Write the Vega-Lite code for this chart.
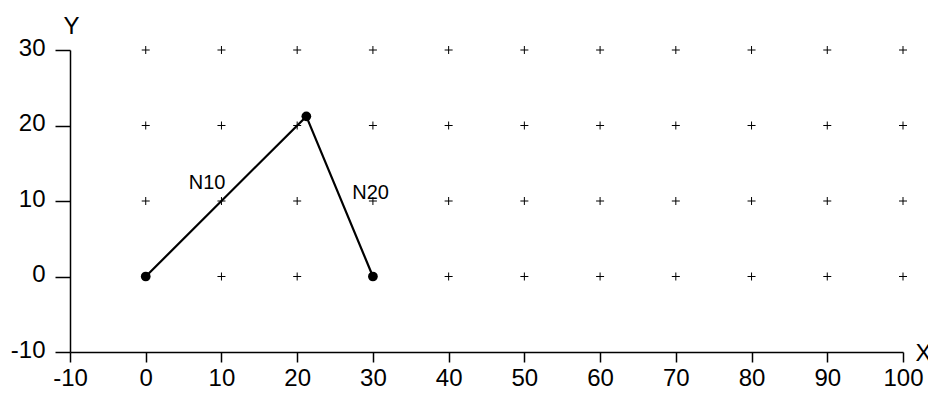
{
  "$schema": "https://vega.github.io/schema/vega-lite/v6.json",
  "width": 833,
  "height": 302,
  "autosize": {"type": "none"},
  "padding": {"left": 70, "top": 50, "right": 25, "bottom": 43},
  "background": "white",
  "config": {
    "view": {"stroke": null},
    "font": "Liberation Sans",
    "axis": {
      "grid": false,
      "domainColor": "black",
      "tickColor": "black",
      "labelColor": "black",
      "titleColor": "black",
      "labelFont": "Liberation Sans",
      "titleFont": "Liberation Sans",
      "labelFontSize": 24,
      "titleFontSize": 24,
      "titleFontWeight": "normal",
      "domainWidth": 1.5,
      "tickWidth": 1.5
    }
  },
  "datasets": {
    "grid": [
      {"x": 0, "y": 0}, {"x": 10, "y": 0}, {"x": 20, "y": 0}, {"x": 30, "y": 0}, {"x": 40, "y": 0}, {"x": 50, "y": 0}, {"x": 60, "y": 0}, {"x": 70, "y": 0}, {"x": 80, "y": 0}, {"x": 90, "y": 0}, {"x": 100, "y": 0},
      {"x": 0, "y": 10}, {"x": 10, "y": 10}, {"x": 20, "y": 10}, {"x": 30, "y": 10}, {"x": 40, "y": 10}, {"x": 50, "y": 10}, {"x": 60, "y": 10}, {"x": 70, "y": 10}, {"x": 80, "y": 10}, {"x": 90, "y": 10}, {"x": 100, "y": 10},
      {"x": 0, "y": 20}, {"x": 10, "y": 20}, {"x": 20, "y": 20}, {"x": 30, "y": 20}, {"x": 40, "y": 20}, {"x": 50, "y": 20}, {"x": 60, "y": 20}, {"x": 70, "y": 20}, {"x": 80, "y": 20}, {"x": 90, "y": 20}, {"x": 100, "y": 20},
      {"x": 0, "y": 30}, {"x": 10, "y": 30}, {"x": 20, "y": 30}, {"x": 30, "y": 30}, {"x": 40, "y": 30}, {"x": 50, "y": 30}, {"x": 60, "y": 30}, {"x": 70, "y": 30}, {"x": 80, "y": 30}, {"x": 90, "y": 30}, {"x": 100, "y": 30}
    ],
    "path": [
      {"x": 0, "y": 0, "order": 1},
      {"x": 21.21, "y": 21.21, "order": 2},
      {"x": 30, "y": 0, "order": 3}
    ],
    "labels": [
      {"x": 8.1, "y": 12.4, "label": "N10"},
      {"x": 29.7, "y": 11.1, "label": "N20"}
    ]
  },
  "encoding": {
    "x": {
      "field": "x", "type": "quantitative",
      "scale": {"domain": [-10, 100], "nice": false, "zero": false},
      "axis": {
        "values": [-10, 0, 10, 20, 30, 40, 50, 60, 70, 80, 90, 100],
        "labelExpr": "'' + datum.value",
        "title": "X", "titleAngle": 0, "titleX": 845, "titleY": 8,
        "titleAlign": "left", "titleBaseline": "alphabetic",
        "tickSize": 10, "labelPadding": 4, "labelFlush": false
      }
    },
    "y": {
      "field": "y", "type": "quantitative",
      "scale": {"domain": [-10, 30], "nice": false, "zero": false},
      "axis": {
        "values": [-10, 0, 10, 20, 30],
        "labelExpr": "'' + datum.value",
        "title": "Y", "titleAngle": 0, "titleX": 1, "titleY": -17,
        "titleAlign": "center", "titleBaseline": "alphabetic",
        "tickSize": 15, "labelPadding": 10,
        "labelBaseline": "alphabetic", "labelOffset": 5, "labelFlush": false
      }
    }
  },
  "layer": [
    {
      "data": {"name": "grid"},
      "mark": {"type": "point", "shape": "M-1,0L1,0M0,-1L0,1", "size": 64, "filled": false, "stroke": "black", "strokeWidth": 1, "opacity": 1}
    },
    {
      "data": {"name": "path"},
      "mark": {"type": "line", "color": "black", "strokeWidth": 2.2},
      "encoding": {"order": {"field": "order", "type": "quantitative"}}
    },
    {
      "data": {"name": "path"},
      "mark": {"type": "circle", "color": "black", "size": 95, "opacity": 1}
    },
    {
      "data": {"name": "labels"},
      "mark": {"type": "text", "fontSize": 20, "font": "Liberation Sans", "color": "black", "align": "center", "baseline": "middle"},
      "encoding": {"text": {"field": "label", "type": "nominal"}}
    }
  ]
}
